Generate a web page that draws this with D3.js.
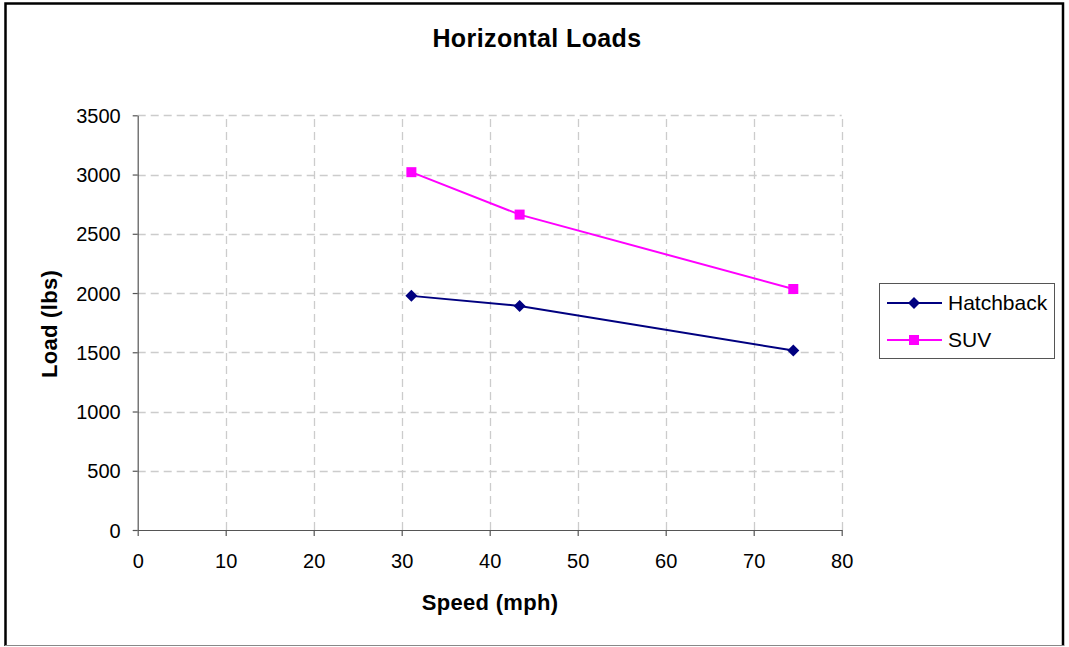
<!DOCTYPE html>
<html>
<head>
<meta charset="utf-8">
<script src="https://cdn.jsdelivr.net/npm/d3@7"></script>
<style>
html,body{margin:0;padding:0;background:#fff;}
svg{display:block;font-family:"Liberation Sans",Arial,sans-serif;}
</style>
</head>
<body>
<svg id="chart" width="1069" height="647"></svg>
<script>
const seriesNames = ["Hatchback", "SUV"];
const speeds = [31.1, 43.4, 74.5];
const hatchbackLoads = [1976, 1891, 1515];
const suvLoads = [3020, 2662, 2034];
const xTicks = [0, 10, 20, 30, 40, 50, 60, 70, 80];
const yTicks = [0, 500, 1000, 1500, 2000, 2500, 3000, 3500];
const colors = ["#000080", "#FF00FF"];

(function(){
const svg = d3.select("#chart");
const W = 1069, H = 647;

// chart border
svg.append("rect").attr("x",0).attr("y",0).attr("width",W).attr("height",H).attr("fill","#fff");
svg.append("path").attr("d","M5.5,646 L5.5,3.5 L1063,3.5 L1063,646")
  .attr("fill","none").attr("stroke","#000").attr("stroke-width",2.5);
svg.append("line").attr("x1",5).attr("x2",1064).attr("y1",645.5).attr("y2",645.5)
  .attr("stroke","#888").attr("stroke-width",1);

const pl = 137.7, pr = 841.7, pt = 115.3, pb = 530;
const x = d3.scaleLinear().domain([0,80]).range([pl,pr]);
const y = d3.scaleLinear().domain([0,3500]).range([pb,pt]);

// gridlines
const grid = svg.append("g");
grid.selectAll("line.h").data(yTicks.filter(d=>d>0)).enter().append("line")
  .attr("x1",pl).attr("x2",pr).attr("y1",d=>Math.round(y(d))+0.5).attr("y2",d=>Math.round(y(d))+0.5)
  .attr("stroke","#cccccc").attr("stroke-width",1.3).attr("stroke-dasharray","8,5");
grid.selectAll("line.v").data(xTicks.filter(d=>d>0)).enter().append("line")
  .attr("y1",pb).attr("y2",pt).attr("x1",d=>Math.round(x(d))+0.5).attr("x2",d=>Math.round(x(d))+0.5)
  .attr("stroke","#cccccc").attr("stroke-width",1.3).attr("stroke-dasharray","8,5");

// axes
const fmt = d3.format("d");
const xAxis = d3.axisBottom(x).tickValues(xTicks).tickFormat(fmt).tickSize(6).tickPadding(18).tickSizeOuter(0);
const yAxis = d3.axisLeft(y).tickValues(yTicks).tickFormat(fmt).tickSize(5).tickPadding(12).tickSizeOuter(0);
const gx = svg.append("g").attr("transform",`translate(0,${pb})`).call(xAxis);
const gy = svg.append("g").attr("transform",`translate(${pl},0)`).call(yAxis);
[gx,gy].forEach(g=>{
  g.attr("font-size",null).attr("font-family",null);
  g.select(".domain").attr("stroke","#555").attr("stroke-width",1.2);
  g.selectAll(".tick line").attr("stroke","#555").attr("stroke-width",1.2);
  g.selectAll(".tick text").attr("fill","#000").style("font-size","20px")
   .style("font-family","'Liberation Sans',Arial,sans-serif");
});
gy.selectAll(".tick text").attr("dy","0.35em");

// title & axis labels
svg.append("text").attr("x",537).attr("y",47).attr("text-anchor","middle")
  .style("font-size","25px").style("font-weight","bold").style("letter-spacing","0.4px").text("Horizontal Loads");
svg.append("text").attr("x",490).attr("y",610).attr("text-anchor","middle")
  .style("font-size","22px").style("font-weight","bold").style("letter-spacing","0.3px").text("Speed (mph)");
svg.append("text").attr("transform","translate(57,324) rotate(-90)").attr("text-anchor","middle")
  .style("font-size","22px").style("font-weight","bold").style("letter-spacing","0.3px").text("Load (lbs)");

// series
const series = [
  {name: seriesNames[0], values: hatchbackLoads, color: colors[0], symbol: "diamond"},
  {name: seriesNames[1], values: suvLoads, color: colors[1], symbol: "square"}
];
const line = d3.line().x(d=>x(d[0])).y(d=>y(d[1]));
function drawMarker(g, type, cx, cy, color){
  if(type==="diamond"){
    g.append("path").attr("d",`M${cx},${cy-6} L${cx+6},${cy} L${cx},${cy+6} L${cx-6},${cy} Z`).attr("fill",color);
  } else {
    g.append("rect").attr("x",cx-5).attr("y",cy-5).attr("width",10).attr("height",10).attr("fill",color);
  }
}
series.forEach(s=>{
  const pts = speeds.map((sp,i)=>[sp, s.values[i]]);
  svg.append("path").datum(pts).attr("d",line).attr("fill","none").attr("stroke",s.color).attr("stroke-width",2);
  const g = svg.append("g");
  pts.forEach(p=>drawMarker(g, s.symbol, x(p[0]), y(p[1]), s.color));
});

// legend
const lg = svg.append("g");
lg.append("rect").attr("x",879.5).attr("y",283.5).attr("width",175).attr("height",75)
  .attr("fill","#fff").attr("stroke","#555").attr("stroke-width",1);
series.forEach((s,i)=>{
  const cy = [303,340][i];
  lg.append("line").attr("x1",887).attr("x2",942).attr("y1",cy).attr("y2",cy).attr("stroke",s.color).attr("stroke-width",2);
  drawMarker(lg, s.symbol, 914, cy, s.color);
  lg.append("text").attr("x",948).attr("y",cy).attr("dy","0.35em").style("font-size","21px").text(s.name);
});
})();
</script>
</body>
</html>
